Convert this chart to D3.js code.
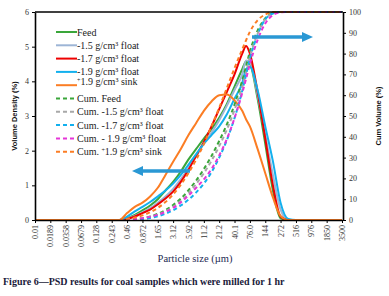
<!DOCTYPE html>
<html>
<head>
<meta charset="utf-8">
<script src="https://cdn.jsdelivr.net/npm/d3@7"></script>
<style>
  body { margin: 0; background: #fff; }
  svg { display: block; }
</style>
</head>
<body>
<div id="chart"></div>
<script>
// Particle sizes (um) where the curves were read
const sizes = [0.01, 0.243, 0.334, 0.46, 0.633, 0.872, 1.2, 1.65, 2.27, 3.12, 4.3, 5.92, 8.14, 11.2, 15.4, 21.2, 29.2, 40.1, 55.2, 65, 76, 104.6, 144, 198, 272, 375, 516, 3500];

// Volume density (%)
const feed    = [0, 0, 0, 0.05, 0.15, 0.28, 0.42, 0.6, 0.85, 1.1, 1.4, 1.75, 2.05, 2.35, 2.62, 2.95, 3.35, 3.85, 4.35, 4.57, 4.5, 3.5, 2.2, 0.85, 0.05, 0, 0, 0];
const float15 = [0, 0, 0, 0.04, 0.12, 0.22, 0.34, 0.5, 0.68, 0.9, 1.18, 1.5, 1.85, 2.2, 2.52, 2.88, 3.3, 3.75, 4.2, 4.6, 4.55, 3.6, 2.45, 1.3, 0.3, 0, 0, 0];
const float17 = [0, 0, 0, 0.03, 0.1, 0.2, 0.3, 0.45, 0.62, 0.82, 1.1, 1.45, 1.85, 2.25, 2.7, 3.2, 3.7, 4.2, 4.8, 5.02, 4.8, 3.7, 2.35, 1.0, 0.1, 0, 0, 0];
const float19 = [0, 0, 0, 0.1, 0.25, 0.38, 0.52, 0.68, 0.85, 1.05, 1.3, 1.6, 1.9, 2.2, 2.45, 2.7, 3.05, 3.5, 3.95, 4.35, 4.42, 3.75, 2.7, 1.69, 0.5, 0.03, 0, 0];
const sink19  = [0, 0, 0, 0.2, 0.38, 0.5, 0.68, 0.93, 1.3, 1.68, 2.05, 2.45, 2.8, 3.15, 3.42, 3.6, 3.62, 3.45, 3.15, 2.9, 2.7, 2.05, 1.35, 0.65, 0.12, 0, 0, 0];

// Cumulative volume (%)
const cumFeed    = [0, 0, 0, 0.1, 0.4, 0.9, 1.7, 3.0, 4.8, 7.2, 10.3, 14.3, 19, 24.5, 30.8, 38, 46, 55.5, 67, 74, 81, 91, 97, 99.5, 100, 100, 100, 100];
const cumFloat15 = [0, 0, 0, 0.1, 0.3, 0.8, 1.5, 2.6, 4.2, 6.3, 9.2, 12.8, 17.3, 22.5, 28.5, 35.5, 43.5, 53, 64, 71, 78.5, 89.5, 96.5, 99.3, 100, 100, 100, 100];
const cumFloat17 = [0, 0, 0, 0.05, 0.2, 0.5, 1.0, 1.8, 3.0, 4.7, 7.0, 9.8, 13.3, 17.5, 23, 30, 38.5, 49, 62, 70, 77.5, 89, 96.5, 99.3, 100, 100, 100, 100];
const cumFloat19 = [0, 0, 0, 0.1, 0.35, 0.8, 1.5, 2.5, 3.9, 5.8, 8.5, 11.8, 15.5, 19.5, 24.5, 31, 39, 49, 61, 68, 75, 86.5, 94.5, 98.5, 99.8, 100, 100, 100];
const cumSink19  = [0, 0, 0, 0.5, 1.2, 2.2, 3.7, 5.8, 8.6, 12.3, 17, 22.6, 29, 36.5, 45, 54, 63.5, 73, 82, 86.5, 90.5, 96, 98.8, 100, 100, 100, 100, 100];

// Axis tick labels
const xTickLabels = ["0.01", "0.0189", "0.0358", "0.0679", "0.128", "0.243", "0.46", "0.872", "1.65", "3.12", "5.92", "11.2", "21.2", "40.1", "76.0", "144", "272", "516", "976", "1850", "3500"];
const yLeftTicks = [0, 1, 2, 3, 4, 5, 6];
const yRightTicks = [0, 10, 20, 30, 40, 50, 60, 70, 80, 90, 100];

// "^" marks a small raised plus sign
const legendNames = ["Feed", "-1.5 g/cm³ float", "-1.7 g/cm³ float", "-1.9 g/cm³ float", "^1.9 g/cm³ sink",
  "Cum. Feed", "Cum. -1.5 g/cm³ float", "Cum. -1.7 g/cm³ float", "Cum. - 1.9 g/cm³ float", "Cum. ^1.9 g/cm³ sink"];

const width = 389, height = 296;
const plot = { left: 35, right: 342, top: 12, bottom: 220 };
const serif = "'Liberation Serif', 'Times New Roman', serif";
const sans = "'Liberation Sans', Arial, sans-serif";

const series = [
  { name: legendNames[0], values: feed, color: "#3aa63a", dash: null, axis: "L" },
  { name: legendNames[1], values: float15, color: "#9db5d6", dash: null, axis: "L" },
  { name: legendNames[2], values: float17, color: "#ee0000", dash: null, axis: "L" },
  { name: legendNames[3], values: float19, color: "#12b0ee", dash: null, axis: "L" },
  { name: legendNames[4], values: sink19, color: "#fb7d24", dash: null, axis: "L" },
  { name: legendNames[5], values: cumFeed, color: "#3aa63a", dash: "4,3", axis: "R" },
  { name: legendNames[6], values: cumFloat15, color: "#a8a8a8", dash: "4,3", axis: "R" },
  { name: legendNames[7], values: cumFloat17, color: "#12b0ee", dash: "4,3", axis: "R" },
  { name: legendNames[8], values: cumFloat19, color: "#e536d8", dash: "4,3", axis: "R" },
  { name: legendNames[9], values: cumSink19, color: "#fb7d24", dash: "4,3", axis: "R" }
];

const svg = d3.select("#chart").append("svg")
  .attr("width", width)
  .attr("height", height);

// Scales
const x = d3.scaleLog().domain([0.01, 3500]).range([plot.left, plot.right]);
const yL = d3.scaleLinear().domain([0, 6]).range([plot.bottom, plot.top]);
const yR = d3.scaleLinear().domain([0, 100]).range([plot.bottom, plot.top]);

// Curves
series.forEach(s => {
  const y = s.axis === "L" ? yL : yR;
  const line = d3.line()
    .x((d, i) => x(sizes[i]))
    .y(d => y(d))
    .curve(d3.curveMonotoneX);
  svg.append("path")
    .datum(s.values)
    .attr("fill", "none")
    .attr("stroke", s.color)
    .attr("stroke-width", 2)
    .attr("stroke-dasharray", s.dash)
    .attr("d", line);
});

// Axes
const xAxis = svg.append("g")
  .attr("transform", `translate(0,${plot.bottom})`)
  .call(d3.axisBottom(x).tickValues(xTickLabels.map(Number)).tickFormat((d, i) => xTickLabels[i]).tickSize(3).tickSizeOuter(0));
xAxis.selectAll("text")
  .attr("transform", "rotate(-90)")
  .attr("x", -5).attr("y", 0).attr("dy", "0.32em")
  .style("text-anchor", "end");

const yAxisL = svg.append("g")
  .attr("transform", `translate(${plot.left},0)`)
  .call(d3.axisLeft(yL).tickValues(yLeftTicks).tickFormat(d3.format("d")).tickSize(3).tickSizeOuter(0));

const yAxisR = svg.append("g")
  .attr("transform", `translate(${plot.right + 1},0)`)
  .call(d3.axisRight(yR).tickValues(yRightTicks).tickFormat(d3.format("d")).tickSize(3).tickSizeOuter(0));

[xAxis, yAxisL, yAxisR].forEach(g => {
  g.select(".domain").attr("stroke", "#000").attr("stroke-width", 1.6);
  g.selectAll(".tick line").attr("stroke", "#000");
  g.selectAll("text").attr("font-family", serif).attr("font-size", 8).attr("fill", "#333");
});

// top border
svg.append("line")
  .attr("x1", plot.left).attr("x2", plot.right + 1)
  .attr("y1", plot.top).attr("y2", plot.top)
  .attr("stroke", "#000").attr("stroke-width", 1.6);

// Axis titles
svg.append("text")
  .attr("transform", `translate(17,${(plot.top + plot.bottom) / 2}) rotate(-90)`)
  .attr("text-anchor", "middle")
  .attr("font-family", sans).attr("font-weight", "bold").attr("font-size", 7.5)
  .attr("fill", "#111")
  .text("Volume Density (%)");

svg.append("text")
  .attr("transform", `translate(381,${(plot.top + plot.bottom) / 2}) rotate(-90)`)
  .attr("text-anchor", "middle")
  .attr("font-family", sans).attr("font-weight", "bold").attr("font-size", 7.5)
  .attr("fill", "#111")
  .text("Cum Volume (%)");

svg.append("text")
  .attr("x", 195).attr("y", 262)
  .attr("text-anchor", "middle")
  .attr("font-family", serif).attr("font-size", 10.5)
  .attr("fill", "#1e2a52")
  .text("Particle size (µm)");

svg.append("text")
  .attr("x", 3).attr("y", 285)
  .attr("font-family", serif).attr("font-weight", "bold").attr("font-size", 10)
  .attr("fill", "#1a1a3a")
  .text("Figure 6—PSD results for coal samples which were milled for 1 hr");

// Legend
const legend = svg.append("g").attr("transform", "translate(56,32)");
series.forEach((s, i) => {
  const g = legend.append("g").attr("transform", `translate(0,${i * 13.3})`);
  g.append("line")
    .attr("x1", 0).attr("x2", 21)
    .attr("stroke", s.color).attr("stroke-width", 2)
    .attr("stroke-dasharray", s.dash);
  const t = g.append("text")
    .attr("x", 21).attr("y", 0).attr("dy", "0.35em")
    .attr("font-family", serif).attr("font-size", 10)
    .attr("fill", "#222");
  const parts = s.name.split("^");
  t.append("tspan").text(parts[0]);
  if (parts.length > 1) {
    t.append("tspan").attr("font-size", 6).attr("dy", -3.5).text("+");
    t.append("tspan").attr("dy", 3.5).text(parts[1]);
  }
});

// Arrows pointing to the axes
function arrow(x1, x2, y) {
  const dir = Math.sign(x2 - x1);
  svg.append("line")
    .attr("x1", x1).attr("x2", x2 - dir * 9)
    .attr("y1", y).attr("y2", y)
    .attr("stroke", "#2a98d4").attr("stroke-width", 3.5);
  svg.append("path")
    .attr("d", `M${x2},${y} L${x2 - dir * 11},${y - 5} L${x2 - dir * 11},${y + 5} Z`)
    .attr("fill", "#2a98d4");
}
arrow(190, 132, 171);
arrow(252, 313, 37);
</script>
</body>
</html>
